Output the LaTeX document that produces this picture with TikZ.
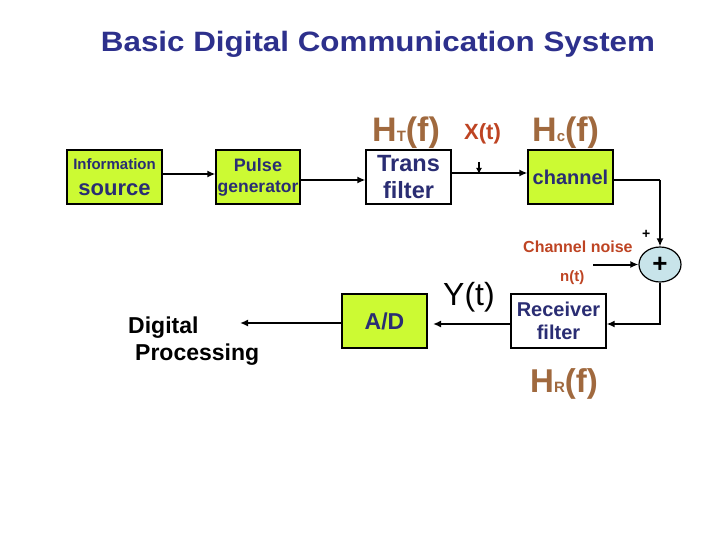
\documentclass[tikz,border=0pt]{standalone}
\usepackage{fontspec}
\setmainfont{Liberation Sans}
\usetikzlibrary{arrows.meta,shapes.geometric}
\definecolor{navyt}{RGB}{45,48,140}
\definecolor{navyb}{RGB}{42,45,115}
\definecolor{lime}{RGB}{204,250,51}
\definecolor{hbrown}{RGB}{160,105,62}
\definecolor{redb}{RGB}{190,68,35}
\definecolor{addfill}{RGB}{200,228,234}
\newcommand\fs[2]{\fontsize{#1}{#2}\selectfont}
\begin{document}
\begin{tikzpicture}[x=1pt,y=-1pt,
  box/.style={draw=black,line width=1.2pt,minimum height=54pt,inner sep=0pt,align=center,text=navyb,font=\bfseries},
  gbox/.style={box,fill=lime},
  wbox/.style={box,fill=white},
  arr/.style={line width=2pt,-{Latex[length=8pt,width=7pt]}},
  ln/.style={line width=2pt},
  lbl/.style={inner sep=0pt,anchor=base west,font=\bfseries}]
\useasboundingbox (0,0) rectangle (720,540);

% title
\node[inner sep=0pt,anchor=base,text=navyt,font=\bfseries\fs{28}{30}] (title) at (378,52)
  {\scalebox{1.12}[1]{Basic Digital Communication System}};

% boxes
\node[gbox,minimum width=95pt,font=\bfseries\fs{15}{26}] (info) at (114.5,177)
  {Information\\\fs{22}{26}source};
\node[gbox,minimum width=84pt,font=\bfseries\fs{18}{21}] (pulse) at (258,177)
  {Pulse\\\fs{17.5}{21}generator};
\node[wbox,minimum width=85pt,font=\bfseries\fs{23.5}{27}] (trans) at (408.5,177)
  {Trans\\filter};
\node[gbox,minimum width=85pt,font=\bfseries\fs{20}{22}] (chan) at (570.5,177)
  {channel};
\node[draw=black,line width=1.2pt,fill=addfill,ellipse,minimum width=42pt,minimum height=35pt,inner sep=0pt,font=\bfseries\fs{26}{26}] (adder) at (660,264.5)
  {+};
\node[wbox,minimum width=95pt,font=\bfseries\fs{20}{23}] (recv) at (558.5,321)
  {Receiver\\filter};
\node[gbox,minimum width=85pt,font=\bfseries\fs{23}{26}] (ad) at (384.5,321)
  {A/D};
\node[inner sep=0pt,anchor=base west,align=left,font=\bfseries\fs{23}{27}] (dp) at (128,360)
  {Digital\\\hspace{7pt}Processing};

% labels
\node[lbl,text=hbrown,font=\bfseries\fs{34}{34}] (ht) at (372,142)
  {H{\fs{15}{15}T}(f)};
\node[lbl,text=redb,font=\bfseries\fs{22}{22}] (xt) at (464,140)
  {X(t)};
\node[lbl,text=hbrown,font=\bfseries\fs{34}{34}] (hc) at (532,142)
  {H{\fs{15}{15}c}(f)};
\node[lbl,text=redb,font=\bfseries\fs{16}{16}] (cn) at (523,252)
  {Channel noise};
\node[lbl,text=redb,font=\bfseries\fs{15}{15}] (nt) at (560,281)
  {n(t)};
\node[lbl,text=black,font=\fs{32}{32}] (yt) at (443,305)
  {Y(t)};
\node[lbl,text=hbrown,font=\bfseries\fs{33}{33}] (hr) at (530,392)
  {H{\fs{15}{15}R}(f)};
\node[lbl,text=black,font=\bfseries\fs{14}{14}] (pl) at (642,239)
  {+};

% coordinates
\coordinate (corner) at (660,180);
\coordinate (noise) at (593,264.5);
\coordinate (xtop) at (479,162);
\coordinate (xbot) at (479,174);
\coordinate (adin) at (433,324);
\coordinate (dpin) at (240,323);

% connectors
\draw[arr] ([yshift=3pt]info.east) -- ([yshift=3pt]pulse.west);
\draw[arr] ([yshift=-3pt]pulse.east) -- ([yshift=-3pt]trans.west);
\draw[arr] ([yshift=4pt]trans.east) -- ([yshift=4pt]chan.west);
\draw[line width=1.5pt,-{Latex[length=6pt,width=6pt]}] (xtop) -- (xbot);
\draw[ln] ([yshift=-3pt]chan.east) -- (corner);
\draw[arr] (corner) -- (adder.north);
\draw[arr] (noise) -- (adder.west);
\draw[arr] (adder.south) |- ([yshift=-3pt]recv.east);
\draw[arr] ([yshift=-3pt]recv.west) -- (adin);
\draw[arr] ([yshift=-2pt]ad.west) -- (dpin);
\end{tikzpicture}
\end{document}
